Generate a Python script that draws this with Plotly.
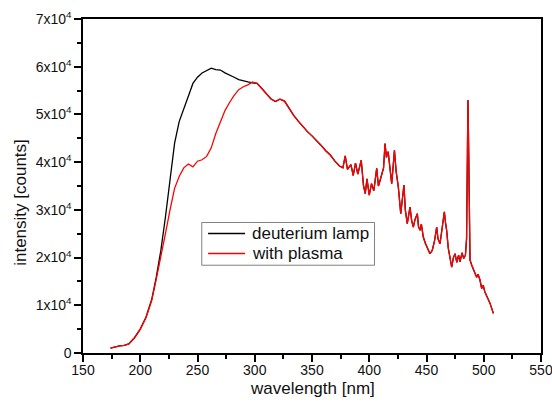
import plotly.graph_objects as go

# ---- data ----
# region where the two spectra differ (nm, counts)
lamp_head_wl = [174, 178, 182, 186, 190, 195, 200, 205, 210, 214, 218, 222, 226, 230, 234, 238,
                242, 246, 250, 254, 258, 262, 266, 270, 274, 278, 282, 286, 290, 294, 298]
lamp_head_int = [1000, 1300, 1500, 1600, 1900, 3200, 5000, 7500, 11200, 15900, 21500, 28500, 36500,
                 44000, 48500, 51000, 53800, 56500, 57800, 58700, 59200, 59700, 59400, 59300, 58700,
                 58300, 57800, 57300, 57000, 56800, 56600]

plasma_head_wl = [174, 178, 182, 186, 190, 195, 200, 205, 210, 214, 218, 222, 226, 230, 234, 238,
                  242, 246, 250, 254, 258, 262, 266, 270, 274, 278, 282, 286, 290, 294, 298]
plasma_head_int = [1000, 1300, 1500, 1600, 1900, 3200, 5000, 7400, 11000, 15500, 20000, 25000, 30000,
                   34500, 37000, 38800, 39600, 39000, 40200, 40500, 41200, 43000, 46000, 48300, 50800,
                   52500, 54000, 55200, 55800, 56200, 56800]

# region where both spectra coincide
common_wl = [302, 306, 310, 314, 318, 322, 326, 330, 334, 338, 342, 346, 350, 354, 358, 362, 366,
             370, 374, 377, 379, 381, 384, 386, 388, 390, 393, 395, 396.5, 398, 400, 402, 404,
             406.5, 408, 409.5, 411, 412.5, 413.8, 415, 416.5, 418, 419.6, 421, 422, 423.5, 425.4,
             427.5, 429, 430.3, 431.5, 433.2, 434.5, 435.6, 437, 438.5, 440, 442, 443, 444.3, 445.5,
             447.2, 449, 451, 453, 455, 457, 458.9, 460, 461.8, 463, 465.6, 466.5, 467.6, 469, 470.5,
             472, 473.5, 474.9, 476.5, 478, 479.3, 481, 482.5, 484, 485, 485.7, 486.2, 486.7, 487.3,
             488, 489.5, 491, 492.5, 493.8, 495, 496.7, 498.2, 499.5, 501, 502.6, 504, 505.5, 507, 508.4]
common_int = [56500, 55500, 54300, 53300, 52700, 53200, 52800, 51200, 49800, 48600, 47400, 46400,
              45500, 44600, 43500, 42400, 41500, 40200, 39200, 38800, 41300, 38500, 39500, 37200,
              39800, 37500, 40400, 35000, 33400, 36500, 33100, 35500, 34000, 38700, 35000, 36200,
              37500, 38800, 43900, 41000, 42200, 39000, 35500, 39500, 42500, 38000, 34800, 29200,
              33000, 35200, 30000, 27100, 29000, 30600, 27800, 26400, 28000, 29200, 26500, 25700,
              27000, 24300, 23000, 22000, 20800, 21500, 23500, 26400, 24000, 22900, 25000, 29600,
              27500, 25700, 22000, 19500, 18000, 20000, 20800, 19000, 20500, 19100, 21000, 19800,
              20500, 24000, 45000, 53000, 45000, 24000, 19500, 18400, 17500, 16800, 15900, 16500,
              15300, 13500, 14200, 12800, 11700, 11200, 10400, 9300, 8300]

series_names = ["deuterium lamp", "with plasma"]
series_colors = ["#000000", "#ff0000"]

x_ticks = [150, 200, 250, 300, 350, 400, 450, 500, 550]
y_ticks = [0, 10000, 20000, 30000, 40000, 50000, 60000, 70000]
y_ticklabels = ["0"] + [f"{i}x10<sup>4</sup>" for i in range(1, 8)]

lamp_wl = lamp_head_wl + common_wl
lamp_int = lamp_head_int + common_int
plasma_wl = plasma_head_wl + common_wl
plasma_int = plasma_head_int + common_int

FONT = "Liberation Sans, Arial, sans-serif"
TXT = "#111111"

fig = go.Figure()
fig.add_trace(go.Scatter(x=lamp_wl, y=lamp_int, mode="lines", name=series_names[0],
                         line=dict(color=series_colors[0], width=1.3)))
fig.add_trace(go.Scatter(x=plasma_wl, y=plasma_int, mode="lines", name=series_names[1],
                         line=dict(color=series_colors[1], width=1.3)))

axis_common = dict(showgrid=False, zeroline=False, showline=True, linecolor="black", linewidth=1.5,
                   mirror=True, ticks="outside", ticklen=7, tickwidth=1.5, tickcolor="black",
                   automargin=False, ticklabeloverflow="allow",
                   tickfont=dict(family=FONT, size=14, color=TXT))

fig.update_xaxes(range=[150, 550], tickvals=x_ticks, ticktext=[str(v) for v in x_ticks],
                 ticklabelstandoff=-4,
                 minor=dict(ticks="outside", dtick=25, tick0=150, ticklen=4, tickwidth=1.5,
                            tickcolor="black"),
                 **axis_common)
fig.update_yaxes(range=[0, 70000], tickvals=y_ticks, ticktext=y_ticklabels,
                 minor=dict(ticks="outside", dtick=5000, tick0=0, ticklen=4, tickwidth=1.5,
                            tickcolor="black"),
                 **axis_common)

# axis titles
fig.add_annotation(text="wavelength [nm]", xref="paper", yref="paper",
                   x=0.5, y=-0.105, xanchor="center", yanchor="middle", showarrow=False,
                   font=dict(family=FONT, size=17, color=TXT))
fig.add_annotation(text="intensity [counts]", textangle=-90, xref="paper", yref="paper",
                   x=-0.138, y=0.452, xanchor="center", yanchor="middle", showarrow=False,
                   font=dict(family=FONT, size=17, color=TXT))

# legend box (drawn in paper coordinates)
fig.add_shape(type="rect", xref="paper", yref="paper", x0=0.2593, x1=0.6365, y0=0.2628, y1=0.3908,
              line=dict(color="#808080", width=1), fillcolor="white", layer="above")
legend_y = [0.3578, 0.2979]
for name, color, ly in zip(series_names, series_colors, legend_y):
    fig.add_shape(type="line", xref="paper", yref="paper", x0=0.2731, x1=0.3539, y0=ly, y1=ly,
                  line=dict(color=color, width=1.3), layer="above")
    fig.add_annotation(text=name, xref="paper", yref="paper", x=0.3650, y=ly,
                       xanchor="left", yanchor="middle", showarrow=False,
                       font=dict(family=FONT, size=17, color=TXT))

fig.update_layout(
    width=552, height=405,
    margin=dict(l=83, r=11, t=19, b=52),
    paper_bgcolor="white", plot_bgcolor="white",
    showlegend=False,
)

fig.write_html("out.html", config={"displayModeBar": False},
               post_script="document.body.style.margin='0';document.body.style.padding='0';")
